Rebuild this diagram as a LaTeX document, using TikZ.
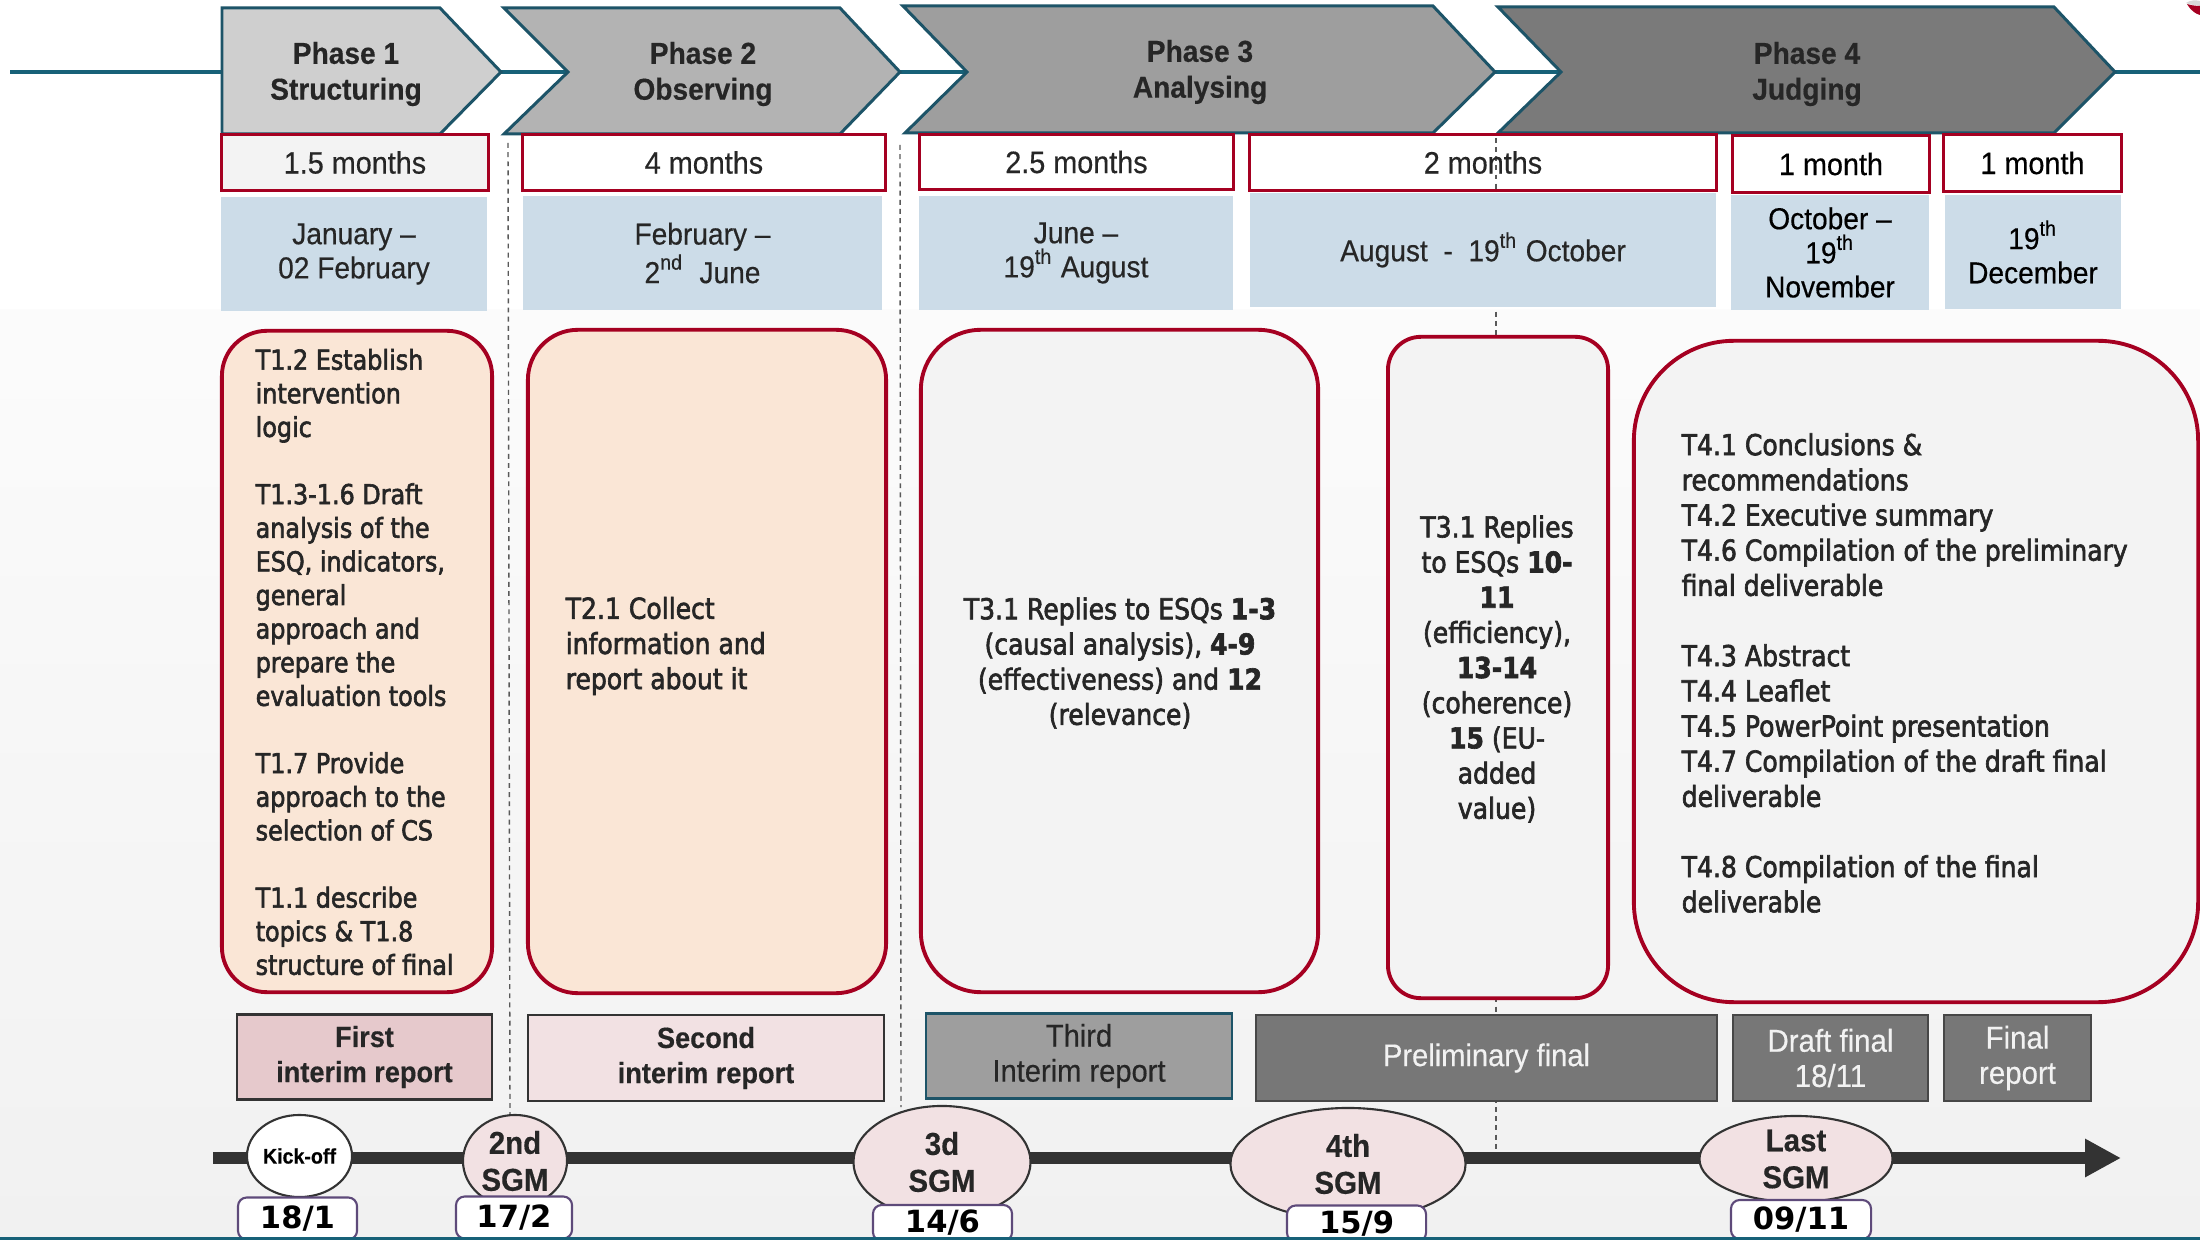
\documentclass[tikz,border=0pt]{standalone}
\usepackage{fontspec}
\setmainfont{Liberation Sans}
\newfontfamily\hdfont{Liberation Sans}[FakeStretch=0.93,FakeBold=0.4]
\newfontfamily\bodyfont{DejaVu Sans}[FakeStretch=0.87,FakeBold=2.2]
\newfontfamily\numfont{DejaVu Sans}
\usetikzlibrary{shapes.geometric,arrows.meta}

\definecolor{tealline}{HTML}{176178}
\definecolor{tealedge}{HTML}{1D5468}
\definecolor{crimsonedge}{HTML}{A50021}
\definecolor{phaseA}{HTML}{CFCFCF}
\definecolor{phaseB}{HTML}{B3B3B3}
\definecolor{phaseC}{HTML}{9E9E9E}
\definecolor{phaseD}{HTML}{7A7A7A}
\definecolor{paleblue}{HTML}{CCDCE8}
\definecolor{peach}{HTML}{FAE6D6}
\definecolor{lightpanel}{HTML}{F3F3F3}
\definecolor{rosedark}{HTML}{E6C9CC}
\definecolor{roselight}{HTML}{F2E1E3}
\definecolor{darkedge}{HTML}{333333}
\definecolor{txt}{HTML}{262626}
\definecolor{plum}{HTML}{5E4A7A}
\definecolor{divgray}{HTML}{595959}
\definecolor{bgbottom}{HTML}{F1F1F1}
\definecolor{greybox}{HTML}{777777}
\definecolor{greyedge}{HTML}{474747}
\definecolor{lighttext}{HTML}{F2F2F2}

\newcommand\fsz[2]{\fontsize{#1}{#2}\selectfont}

\tikzset{
  phaseshape/.style={draw=tealedge, line width=0.85pt, line join=miter},
  phasetext/.style={align=center, inner sep=0pt, text=txt, font=\hdfont\bfseries\fsz{8.6}{10.2}},
  durbox/.style={draw=crimsonedge, line width=0.85pt, minimum height=0.55cm, inner sep=0pt,
    text=txt, font=\hdfont\fsz{8.8}{10}},
  datebox/.style={fill=paleblue, minimum height=1.14cm, inner sep=0pt, align=center,
    text=txt, font=\hdfont\fsz{8.6}{9.7}},
  taskbox/.style={draw=crimsonedge, line width=1.1pt, inner sep=0pt},
  tasktext/.style={inner sep=0pt, text=txt, font=\bodyfont\fsz{8.2}{10}},
  reportbox/.style={draw=darkedge, line width=0.6pt, minimum height=0.85cm, inner sep=0pt, align=center},
  divider/.style={draw=divgray, line width=0.4pt, dash pattern=on 1.4pt off 1.2pt},
  timeline/.style={draw=darkedge, line width=3.4pt, -{Triangle[length=10.2pt,width=10.2pt]}},
  meeting/.style={ellipse, draw=darkedge, line width=0.6pt, inner sep=0pt, align=center,
    text=txt, font=\hdfont\bfseries\fsz{9}{10.5}},
  datelabel/.style={rounded corners=2.5pt, draw=plum, line width=0.6pt, fill=white, inner sep=0pt,
    minimum height=0.42cm, text=black, font=\numfont\bfseries\fsz{8.7}{10}},
}

\begin{document}
\begin{tikzpicture}[x=0.01cm,y=-0.01cm]
\useasboundingbox (0,0) rectangle (2200,1240);

% background
\fill[white] (0,0) rectangle (2200,1240);
\shade[top color=white!75!bgbottom, bottom color=bgbottom] (0,310) rectangle (2200,1240);

% thin teal axis behind the phase arrows
\coordinate (axisL) at (10,72);
\coordinate (axisR) at (2200,72);
\draw[tealline, line width=1.1pt] (axisL) -- (axisR);

% phase arrows
\draw[phaseshape, fill=phaseA] (222,8) -- (440,8) -- (501,72) -- (440,134) -- (222,134) -- cycle;
\draw[phaseshape, fill=phaseB] (504,8) -- (840,8) -- (900,72) -- (840,134) -- (504,134) -- (568,72) -- cycle;
\draw[phaseshape, fill=phaseC] (903,6) -- (1433,6) -- (1495,72) -- (1433,133) -- (905,133) -- (967,72) -- cycle;
\draw[phaseshape, fill=phaseD] (1498,7) -- (2054,7) -- (2115,72) -- (2054,133) -- (1498,133) -- (1561,72) -- cycle;

\node[phasetext] (p1t) at (346,74) {Phase 1\\Structuring};
\node[phasetext] (p2t) at (703,74) {Phase 2\\Observing};
\node[phasetext] (p3t) at (1200,72) {Phase 3\\Analysing};
\node[phasetext] (p4t) at (1807,74) {Phase 4\\Judging};

% dashed phase dividers
\coordinate (dvA1) at (508,143);  \coordinate (dvA2) at (510,1115);
\coordinate (dvB1) at (900,145);  \coordinate (dvB2) at (901,1107);
\coordinate (dvC1) at (1496,138); \coordinate (dvC2) at (1496,1150);
\draw[divider] (dvA1) -- (dvA2);
\draw[divider] (dvB1) -- (dvB2);
\draw[divider] (dvC1) -- (dvC2);

% durations
\node[durbox, fill=lightpanel, minimum width=2.66cm] (d1) at (355,162.5) {1.5 months};
\node[durbox, fill=white, minimum width=3.62cm] (d2) at (704,162.5) {4 months};
\node[durbox, fill=white, minimum width=3.13cm] (d3) at (1076.5,162) {2.5 months};
\node[durbox, minimum width=4.66cm] (d4) at (1483,162.5) {2 months};
\node[durbox, fill=white, minimum width=1.96cm, minimum height=0.56cm, text=black] (d5) at (1831,164) {1 month};
\node[durbox, fill=white, minimum width=1.77cm, minimum height=0.56cm, text=black] (d6) at (2032.5,163) {1 month};

% date ranges
\node[datebox, minimum width=2.66cm] (b1) at (354,254) {January –\\02 February};
\node[datebox, minimum width=3.59cm] (b2) at (702.5,253) {February –\\2\textsuperscript{nd}~ June};
\node[datebox, minimum width=3.14cm] (b3) at (1076,253) {June –\\19\textsuperscript{th} August};
\node[datebox, minimum width=4.66cm] (b4) at (1483,250) {August~ -~ 19\textsuperscript{th} October};
\node[datebox, minimum width=1.98cm, text=black] (b5) at (1830,252.5) {October –\\19\textsuperscript{th}\\November};
\node[datebox, minimum width=1.76cm, text=black] (b6) at (2033,252) {19\textsuperscript{th}\\December};

% task panels
\node[taskbox, fill=peach, rounded corners=0.45cm, minimum width=2.70cm, minimum height=6.61cm] (t1) at (357,661.5) {};
\node[taskbox, fill=peach, rounded corners=0.5cm, minimum width=3.58cm, minimum height=6.63cm] (t2) at (707,661.5) {};
\node[taskbox, fill=lightpanel, rounded corners=0.6cm, minimum width=3.97cm, minimum height=6.62cm] (t3) at (1119.5,661) {};
\node[taskbox, fill=lightpanel, rounded corners=0.33cm, minimum width=2.20cm, minimum height=6.61cm] (t3b) at (1498,667.5) {};
\node[taskbox, fill=lightpanel, rounded corners=1.0cm, minimum width=5.64cm, minimum height=6.61cm] (t4) at (1916,671.5) {};

\node[tasktext, anchor=west, align=left, font=\bodyfont\fsz{7.8}{9.56}] (t1x) at (255,662) {%
T1.2 Establish\\intervention\\logic\\[9.56pt]%
T1.3-1.6 Draft\\analysis of the\\ESQ, indicators,\\general\\approach and\\prepare the\\evaluation tools\\[9.56pt]%
T1.7 Provide\\approach to the\\selection of CS\\[9.56pt]%
T1.1 describe\\topics \& T1.8\\structure of final};

\node[tasktext, anchor=west, align=left] (t2x) at (565,646) {T2.1 Collect\\information and\\report about it};

\node[tasktext, align=center] (t3x) at (1120,663) {T3.1 Replies to ESQs \textbf{1-3}\\(causal analysis), \textbf{4-9}\\(effectiveness) and \textbf{12}\\(relevance)};

\node[tasktext, align=center] (t3bx) at (1497,669) {T3.1 Replies\\to ESQs \textbf{10-}\\\textbf{11}\\(efficiency),\\\textbf{13-14}\\(coherence)\\\textbf{15} (EU-\\added\\value)};

\node[tasktext, anchor=west, align=left] (t4x) at (1681,673) {%
T4.1 Conclusions \&\\recommendations\\T4.2 Executive summary\\T4.6 Compilation of the preliminary\\final deliverable\\[10pt]%
T4.3 Abstract\\T4.4 Leaflet\\T4.5 PowerPoint presentation\\T4.7 Compilation of the draft final\\deliverable\\[10pt]%
T4.8 Compilation of the final\\deliverable};

% deliverables
\node[reportbox, fill=rosedark, minimum width=2.55cm, text=txt, font=\hdfont\bfseries\fsz{8.3}{10}] (r1) at (364.5,1057) {First\\interim report};
\node[reportbox, fill=roselight, minimum width=3.56cm, minimum height=0.86cm, text=txt, font=\hdfont\bfseries\fsz{8.3}{10}] (r2) at (706,1058) {Second\\interim report};
\node[reportbox, draw=tealedge, fill=phaseC, minimum width=3.06cm, text=txt, font=\hdfont\fsz{8.9}{10}] (r3) at (1079,1056) {Third\\Interim report};
\node[reportbox, draw=greyedge, fill=greybox, minimum width=4.61cm, minimum height=0.86cm, text=lighttext, font=\hdfont\fsz{8.9}{10}] (r4) at (1486.5,1058) {Preliminary final};
\node[reportbox, draw=greyedge, fill=greybox, minimum width=1.95cm, minimum height=0.86cm, text=lighttext, font=\hdfont\fsz{9}{10}] (r5) at (1830.5,1058) {Draft final\\18/11};
\node[reportbox, draw=greyedge, fill=greybox, minimum width=1.47cm, minimum height=0.86cm, text=lighttext, font=\hdfont\fsz{9}{10}] (r6) at (2017.5,1058) {Final\\report};

% time axis
\coordinate (tlstart) at (213,1158);
\coordinate (tlend) at (2121,1158);
\draw[timeline] (tlstart) -- (tlend);

% meetings
\node[meeting, fill=white, minimum width=1.05cm, minimum height=0.82cm, text=black, font=\hdfont\bfseries\fsz{6}{7}] (e0) at (299.5,1156) {Kick-off};
\node[meeting, fill=roselight, minimum width=1.04cm, minimum height=0.92cm] (e1) at (515,1161) {2nd\\SGM};
\node[meeting, fill=roselight, minimum width=1.77cm, minimum height=1.12cm] (e2) at (942,1162) {3d\\SGM};
\node[meeting, fill=roselight, minimum width=2.35cm, minimum height=1.12cm] (e3) at (1348,1164) {4th\\SGM};
\node[meeting, fill=roselight, minimum width=1.93cm, minimum height=0.86cm] (e4) at (1796,1159) {Last\\SGM};

% meeting dates
\node[datelabel, minimum width=1.19cm] (l0) at (297.5,1218.5) {18/1};
\node[datelabel, minimum width=1.16cm] (l1) at (514,1217.5) {17/2};
\node[datelabel, minimum width=1.39cm, minimum height=0.36cm] (l2) at (942.5,1223) {14/6};
\node[datelabel, minimum width=1.39cm, minimum height=0.36cm] (l3) at (1356.5,1223.5) {15/9};
\node[datelabel, minimum width=1.40cm, minimum height=0.39cm] (l4) at (1801,1219.5) {09/11};

% bottom rule
\coordinate (baseL) at (0,1238.5);
\coordinate (baseR) at (2200,1238.5);
\draw[tealline, line width=0.9pt] (baseL) -- (baseR);

% corner emblem fragment
\fill[black!15] (2186,3) .. controls (2190,0) and (2196,0) .. (2200,1) -- (2200,6) .. controls (2195,5) and (2190,5) .. (2186,3) -- cycle;
\fill[crimsonedge] (2187,4) .. controls (2191,11) and (2196,14) .. (2200,15) -- (2200,6) .. controls (2195,6) and (2190,5) .. (2187,4) -- cycle;
\end{tikzpicture}
\end{document}
